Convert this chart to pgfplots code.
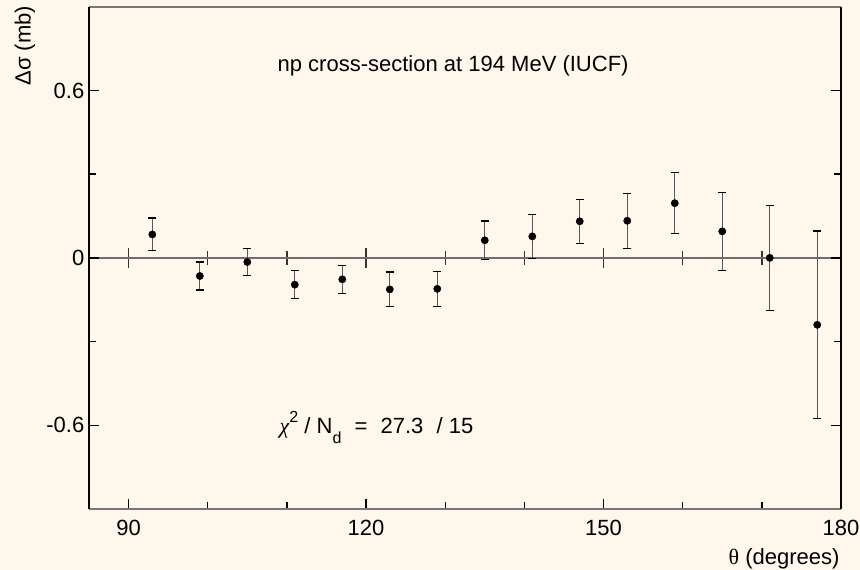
\documentclass[border=0pt]{standalone}
\usepackage{fontspec}
\setmainfont{Liberation Sans}
\newfontfamily\symfont{Liberation Serif}
\usepackage{pgfplots}
\usepackage{pgfplotstable}
\pgfplotsset{compat=1.18}
\definecolor{bg}{RGB}{253,247,236}
\definecolor{zeroline}{RGB}{110,110,110}
\definecolor{frame}{RGB}{120,120,120}

% angle (deg), delta sigma (mb), error (mb)
\pgfplotstableread{
x   y       e
93   0.084  0.059
99  -0.065  0.050
105 -0.015  0.049
111 -0.096  0.050
117 -0.077  0.050
123 -0.113  0.062
129 -0.111  0.062
135  0.063  0.069
141  0.077  0.079
147  0.131  0.079
153  0.133  0.099
159  0.196  0.109
165  0.095  0.139
171  0.000  0.188
177 -0.240  0.336
}\diffdata

\newcommand{\lbl}{\fontsize{16.5}{20}\selectfont}

\begin{document}
\begin{tikzpicture}
\fill[bg] (-66.75pt,-45.75pt) rectangle (578.25pt,381.75pt);

% zero line with crossing ticks
\begin{axis}[
  scale only axis, width=564pt, height=376.7pt,
  xmin=85, xmax=180, ymin=-0.9, ymax=0.9,
  axis x line=middle, axis y line=none,
  axis line style={-, draw=zeroline, line width=1.3pt},
  xtick={90,120,150,180}, minor xtick={100,110,130,140,160,170},
  xticklabels={},
  tick align=center,
  major tick length=15pt, minor tick length=10.5pt,
  every tick/.style={black!80, line width=1pt},
]
\end{axis}

\begin{axis}[
  scale only axis, width=564pt, height=376.7pt,
  xmin=85, xmax=180, ymin=-0.9, ymax=0.9,
  separate axis lines,
  x axis line style={draw=frame, line width=1.5pt},
  y axis line style={draw=black, line width=1.5pt},
  xtick={90,120,150,180}, minor xtick={100,110,130,140,160,170},
  ytick={-0.6,0,0.6}, minor ytick={-0.3,0.3},
  xtick pos=left,
  tick align=inside,
  major tick length=7.5pt, minor tick length=5pt,
  every tick/.style={black, line width=1pt},
  yticklabels={-0.6,0,0.6},
  xticklabels={90,120,150,180},
  tick label style={font=\lbl},
  xticklabel style={yshift=-4.5pt},
  /pgf/number format/assume math mode=true,
  clip=false,
]
\addplot[only marks, mark=*, mark size=2.7pt, black,
  error bars/.cd, y dir=both, y explicit,
  error bar style={black!65, line width=1pt},
  error mark=-,
  error mark options={rotate=90, black, line width=0.9pt, mark size=3pt}]
  table[x=x, y=y, y error=e] {\diffdata};

\node[font=\lbl] at (axis cs:131,0.69) {np cross-section at 194 MeV (IUCF)};
\node[font=\lbl, anchor=base west] at (axis cs:108.5,-0.63)
  {{\symfont\itshape χ}\raisebox{0.5em}{\fontsize{12}{12}\selectfont 2}\ / N\raisebox{-0.45em}{\fontsize{12}{12}\selectfont d}\hspace{0.6em}=\hspace{0.6em}27.3\hspace{0.6em}/ 15};
\node[font=\lbl, rotate=90] at (axis cs:76.9,0.76) {Δσ (mb)};
\node[font=\lbl, anchor=east] at (axis cs:180.4,-1.08) {{\symfont θ} (degrees)};
\end{axis}

\pgfresetboundingbox
\useasboundingbox (-66.75pt,-45.75pt) rectangle (578.25pt,381.75pt);
\end{tikzpicture}
\end{document}
